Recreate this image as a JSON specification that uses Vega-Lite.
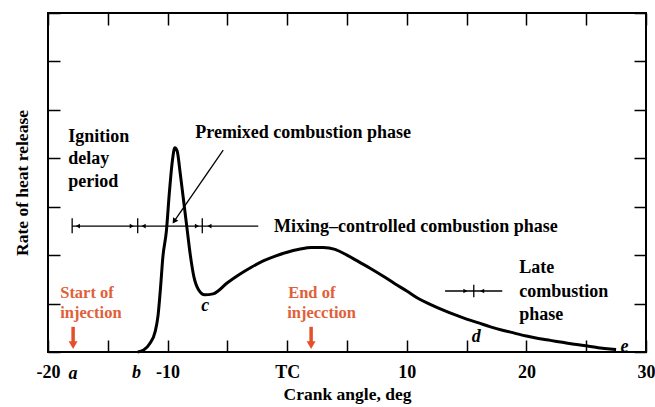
{
  "$schema": "https://vega.github.io/schema/vega-lite/v6.json",
  "width": 598,
  "height": 339,
  "autosize": "none",
  "padding": {"left": 48, "top": 13, "right": 9, "bottom": 55},
  "background": "white",
  "config": {
    "view": {"stroke": "black", "strokeWidth": 2},
    "font": "Liberation Serif",
    "axis": {
      "domain": false, "grid": false, "tickColor": "black", "tickWidth": 1.5,
      "labelFont": "Liberation Serif", "labelFontWeight": "bold", "labelFontSize": 18, "labelColor": "black",
      "titleFont": "Liberation Serif", "titleFontWeight": "bold", "titleFontSize": 17.5, "titleColor": "black"
    }
  },
  "datasets": {
    "curve": [
      {"angle": -12.5, "rate": 0}, {"angle": -12.0, "rate": 0.04}, {"angle": -11.5, "rate": 0.17},
      {"angle": -11.04, "rate": 0.42}, {"angle": -10.8, "rate": 0.75}, {"angle": -10.6, "rate": 1.3},
      {"angle": -10.4, "rate": 1.95}, {"angle": -10.1, "rate": 2.5}, {"angle": -9.85, "rate": 3.3},
      {"angle": -9.6, "rate": 3.95}, {"angle": -9.4, "rate": 4.22}, {"angle": -9.2, "rate": 4.15},
      {"angle": -8.95, "rate": 3.7}, {"angle": -8.7, "rate": 3.2}, {"angle": -8.4, "rate": 2.6},
      {"angle": -8.1, "rate": 2.0}, {"angle": -7.8, "rate": 1.55}, {"angle": -7.4, "rate": 1.28},
      {"angle": -6.9, "rate": 1.18}, {"angle": -6.2, "rate": 1.2}, {"angle": -5.0, "rate": 1.43},
      {"angle": -4.0, "rate": 1.6}, {"angle": -3.0, "rate": 1.75}, {"angle": -2.0, "rate": 1.88},
      {"angle": -1.0, "rate": 1.98}, {"angle": 0.0, "rate": 2.06}, {"angle": 1.0, "rate": 2.12},
      {"angle": 2.0, "rate": 2.16}, {"angle": 3.0, "rate": 2.16}, {"angle": 4.0, "rate": 2.12},
      {"angle": 5.0, "rate": 2.0}, {"angle": 6.0, "rate": 1.86}, {"angle": 7.0, "rate": 1.72},
      {"angle": 8.0, "rate": 1.57}, {"angle": 9.0, "rate": 1.41}, {"angle": 10.0, "rate": 1.26},
      {"angle": 11.0, "rate": 1.1}, {"angle": 12.0, "rate": 0.98}, {"angle": 13.0, "rate": 0.87},
      {"angle": 14.0, "rate": 0.77}, {"angle": 15.0, "rate": 0.68}, {"angle": 16.0, "rate": 0.6},
      {"angle": 17.0, "rate": 0.52}, {"angle": 18.0, "rate": 0.45}, {"angle": 19.0, "rate": 0.39},
      {"angle": 20.0, "rate": 0.33}, {"angle": 21.0, "rate": 0.28}, {"angle": 22.0, "rate": 0.24},
      {"angle": 23.0, "rate": 0.2}, {"angle": 24.0, "rate": 0.16}, {"angle": 25.0, "rate": 0.13},
      {"angle": 26.0, "rate": 0.09}, {"angle": 27.0, "rate": 0.06}, {"angle": 27.5, "rate": 0.05}
    ],
    "segments": [
      {"x": -17.98, "y": 2.6, "x2": -2.42, "y2": 2.6},
      {"x": -17.98, "y": 2.45, "x2": -17.98, "y2": 2.76},
      {"x": -12.5, "y": 2.45, "x2": -12.5, "y2": 2.76},
      {"x": -7.1, "y": 2.45, "x2": -7.1, "y2": 2.76},
      {"x": 13.2, "y": 1.26, "x2": 17.98, "y2": 1.26},
      {"x": 15.6, "y": 1.13, "x2": 15.6, "y2": 1.39},
      {"x": -5.35, "y": 4.17, "x2": -9.5, "y2": 2.68}
    ],
    "heads": [
      {"x": -17.5, "y": 2.6, "dir": "left"},
      {"x": -13.0, "y": 2.6, "dir": "right"},
      {"x": -12.0, "y": 2.6, "dir": "left"},
      {"x": -7.55, "y": 2.6, "dir": "right"},
      {"x": -6.5, "y": 2.6, "dir": "left"},
      {"x": 14.9, "y": 1.26, "dir": "right"},
      {"x": 16.3, "y": 1.26, "dir": "left"},
      {"x": -9.45, "y": 2.7, "dir": "leader"}
    ],
    "redArrows": [
      {"x": -17.9, "top": 0.52, "bottom": 0.14},
      {"x": 2.0, "top": 0.52, "bottom": 0.14}
    ],
    "labels": [
      {"x": -18.3, "y": 4.44, "text": "Ignition"},
      {"x": -18.3, "y": 3.99, "text": "delay"},
      {"x": -18.3, "y": 3.52, "text": "period"},
      {"x": -7.69, "y": 4.52, "text": "Premixed combustion phase"},
      {"x": -1.1, "y": 2.58, "text": "Mixing–controlled combustion phase"},
      {"x": 19.4, "y": 1.74, "text": "Late"},
      {"x": 19.4, "y": 1.24, "text": "combustion"},
      {"x": 19.4, "y": 0.76, "text": "phase"}
    ],
    "letters": [
      {"x": -6.86, "y": 0.95, "text": "c"},
      {"x": 15.8, "y": 0.31, "text": "d"},
      {"x": 28.2, "y": 0.1, "text": "e"},
      {"x": -17.9, "y": -0.46, "text": "a"},
      {"x": -12.6, "y": -0.44, "text": "b"}
    ],
    "redLabels": [
      {"x": -18.98, "y": 1.22, "text": "Start of"},
      {"x": -18.98, "y": 0.8, "text": "injection"},
      {"x": 0.08, "y": 1.22, "text": "End of"},
      {"x": 0.0, "y": 0.8, "text": "injecction"}
    ]
  },
  "resolve": {"axis": {"x": "independent", "y": "independent"}},
  "layer": [
    {
      "data": {"name": "curve"},
      "mark": {"type": "line", "color": "black", "strokeWidth": 3, "interpolate": "monotone"},
      "encoding": {
        "x": {"field": "angle", "type": "quantitative", "scale": {"domain": [-20, 30], "nice": false},
          "axis": {"orient": "bottom", "values": [-20, -15, -10, -5, 0, 5, 10, 15, 20, 25, 30], "tickSize": -12,
            "labelExpr": "datum.value == 0 ? 'TC' : (datum.value % 10 != 0 ? '' : toString(datum.value))",
            "labelFlush": false, "labelOverlap": false, "labelPadding": 23,
            "title": "Crank angle, deg", "titlePadding": 4}},
        "y": {"field": "rate", "type": "quantitative", "scale": {"domain": [0, 7], "nice": false},
          "axis": {"orient": "left", "values": [0, 1, 2, 3, 4, 5, 6, 7], "tickSize": -12, "labels": false,
            "title": "Rate of heat release", "titlePadding": 16}}
      }
    },
    {
      "data": {"name": "segments"},
      "mark": {"type": "rule", "color": "black", "strokeWidth": 1.3},
      "encoding": {
        "x": {"field": "x", "type": "quantitative",
          "axis": {"orient": "top", "values": [-20, -15, -10, -5, 0, 5, 10, 15, 20, 25, 30], "tickSize": -12, "labels": false, "title": null}},
        "y": {"field": "y", "type": "quantitative",
          "axis": {"orient": "right", "values": [0, 1, 2, 3, 4, 5, 6, 7], "tickSize": -12, "labels": false, "title": null}},
        "x2": {"field": "x2"},
        "y2": {"field": "y2"}
      }
    },
    {
      "data": {"name": "heads"},
      "transform": [{"filter": "datum.dir == 'left'"}],
      "mark": {"type": "point", "shape": "triangle-left", "filled": true, "color": "black", "size": 22, "opacity": 1},
      "encoding": {
        "x": {"field": "x", "type": "quantitative", "axis": null},
        "y": {"field": "y", "type": "quantitative", "axis": null}
      }
    },
    {
      "data": {"name": "heads"},
      "transform": [{"filter": "datum.dir == 'right'"}],
      "mark": {"type": "point", "shape": "triangle-right", "filled": true, "color": "black", "size": 22, "opacity": 1},
      "encoding": {
        "x": {"field": "x", "type": "quantitative", "axis": null},
        "y": {"field": "y", "type": "quantitative", "axis": null}
      }
    },
    {
      "data": {"name": "heads"},
      "transform": [{"filter": "datum.dir == 'leader'"}],
      "mark": {"type": "point", "shape": "triangle-up", "angle": 214, "filled": true, "color": "black", "size": 40, "opacity": 1},
      "encoding": {
        "x": {"field": "x", "type": "quantitative", "axis": null},
        "y": {"field": "y", "type": "quantitative", "axis": null}
      }
    },
    {
      "data": {"name": "redArrows"},
      "mark": {"type": "rule", "color": "#e4502a", "strokeWidth": 3.5},
      "encoding": {
        "x": {"field": "x", "type": "quantitative", "axis": null},
        "y": {"field": "top", "type": "quantitative", "axis": null},
        "y2": {"field": "bottom"}
      }
    },
    {
      "data": {"name": "redArrows"},
      "mark": {"type": "point", "shape": "triangle-down", "filled": true, "color": "#e4502a", "size": 80, "opacity": 1},
      "encoding": {
        "x": {"field": "x", "type": "quantitative", "axis": null},
        "y": {"field": "bottom", "type": "quantitative", "axis": null}
      }
    },
    {
      "data": {"name": "labels"},
      "mark": {"type": "text", "align": "left", "baseline": "middle", "font": "Liberation Serif", "fontWeight": "bold", "fontSize": 18, "color": "black"},
      "encoding": {
        "x": {"field": "x", "type": "quantitative", "axis": null},
        "y": {"field": "y", "type": "quantitative", "axis": null},
        "text": {"field": "text"}
      }
    },
    {
      "data": {"name": "letters"},
      "mark": {"type": "text", "align": "center", "baseline": "middle", "font": "Liberation Serif", "fontWeight": "bold", "fontStyle": "italic", "fontSize": 18, "color": "black"},
      "encoding": {
        "x": {"field": "x", "type": "quantitative", "axis": null},
        "y": {"field": "y", "type": "quantitative", "axis": null},
        "text": {"field": "text"}
      }
    },
    {
      "data": {"name": "redLabels"},
      "mark": {"type": "text", "align": "left", "baseline": "middle", "font": "Liberation Serif", "fontWeight": "bold", "fontSize": 16.5, "color": "#e0603a"},
      "encoding": {
        "x": {"field": "x", "type": "quantitative", "axis": null},
        "y": {"field": "y", "type": "quantitative", "axis": null},
        "text": {"field": "text"}
      }
    }
  ]
}
